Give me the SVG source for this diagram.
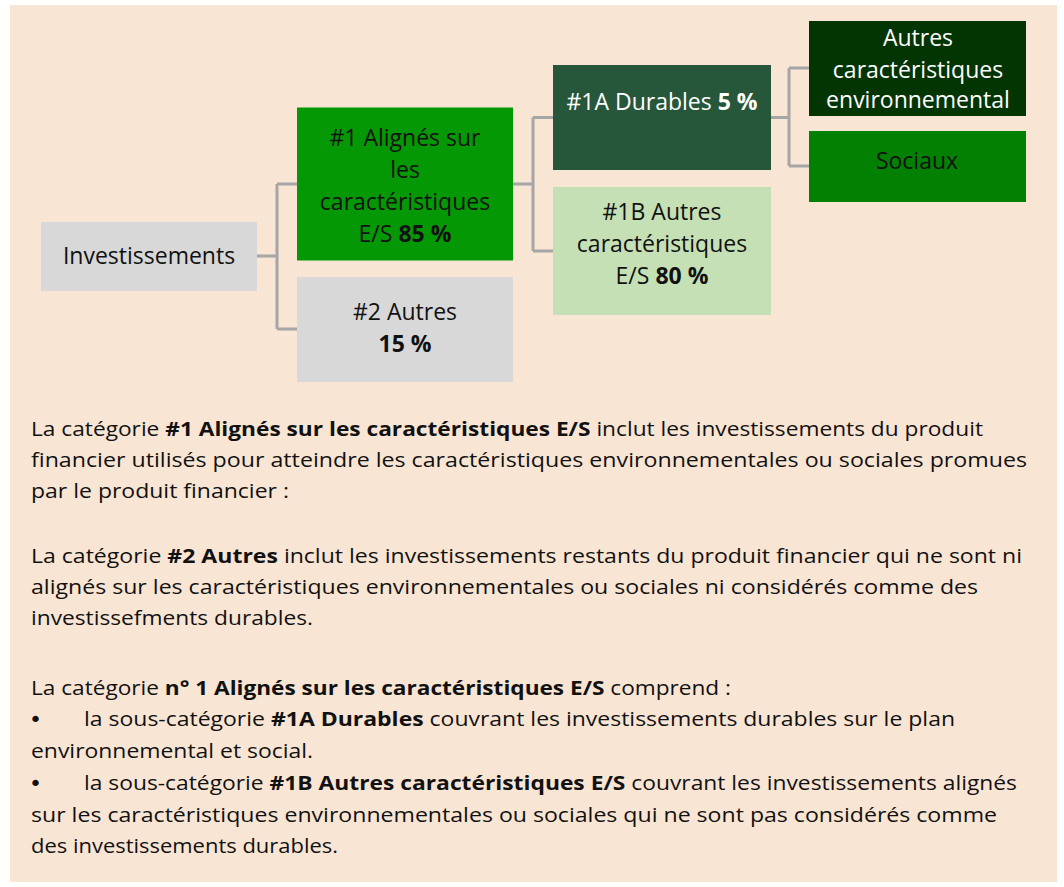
<svg xmlns="http://www.w3.org/2000/svg" width="1064" height="887" viewBox="0 0 1064 887">
  <style>
    .bt { font-family: "Open Sans", "Noto Sans", sans-serif; font-size: 23px; text-anchor: middle; fill: #111; }
    .w { fill: #ffffff; }
    .b { font-weight: bold; }
    .body { font-family: "Open Sans", "Noto Sans", sans-serif; font-size: 19.5px; fill: #111; }
    .bullet { font-family: "DejaVu Sans", sans-serif; font-size: 22px; fill: #111; }
    .conn { fill: none; stroke: #A6A6A6; stroke-width: 3; }
  </style>
  <rect x="0" y="0" width="1064" height="887" fill="#ffffff"/>
  <rect x="10" y="5" width="1047" height="877" fill="#F9E5D3"/>

  <g id="connectors">
    <path class="conn" d="M257,256 H277 M277,184 V329 M277,184 H297 M277,329 H297"/>
    <path class="conn" d="M513,184 H533 M533,117.5 V251 M533,117.5 H553 M533,251 H553"/>
    <path class="conn" d="M771,117.5 H789 M789,68 V166 M789,68 H809 M789,166 H809"/>
  </g>

  <g id="investissements">
    <rect x="41" y="222" width="216" height="69" fill="#D8D8D8"/>
    <text class="bt" x="149" y="263.5">Investissements</text>
  </g>

  <g id="n1">
    <rect x="297" y="107.5" width="216" height="153" fill="#049804"/>
    <text class="bt" x="405" y="146">#1 Alignés sur</text>
    <text class="bt" x="405" y="178">les</text>
    <text class="bt" x="405" y="210">caractéristiques</text>
    <text class="bt" x="405" y="242">E/S <tspan class="b">85 %</tspan></text>
  </g>

  <g id="n2">
    <rect x="297" y="277" width="216" height="105" fill="#D8D8D8"/>
    <text class="bt" x="405" y="320">#2 Autres</text>
    <text class="bt b" x="405" y="352">15 %</text>
  </g>

  <g id="n1a">
    <rect x="553" y="65" width="218" height="105" fill="#26573B"/>
    <text class="bt w" x="662" y="109.5">#1A Durables <tspan class="b">5 %</tspan></text>
  </g>

  <g id="n1b">
    <rect x="553" y="187" width="218" height="128" fill="#C5E0B4"/>
    <text class="bt" x="662" y="220">#1B Autres</text>
    <text class="bt" x="662" y="252">caractéristiques</text>
    <text class="bt" x="662" y="284">E/S <tspan class="b">80 %</tspan></text>
  </g>

  <g id="env">
    <rect x="809" y="21" width="217" height="95" fill="#033503"/>
    <text class="bt w" x="918" y="46">Autres</text>
    <text class="bt w" x="918" y="77.5">caractéristiques</text>
    <text class="bt w" x="918" y="108">environnemental</text>
  </g>

  <g id="sociaux">
    <rect x="809" y="131" width="217" height="71" fill="#028002"/>
    <text class="bt" x="917" y="168.5">Sociaux</text>
  </g>

  <g id="texte">
    <text class="body" x="31" y="436" textLength="952" lengthAdjust="spacingAndGlyphs">La catégorie <tspan class="b">#1 Alignés sur les caractéristiques E/S</tspan> inclut les investissements du produit</text>
    <text class="body" x="31" y="467" textLength="996" lengthAdjust="spacingAndGlyphs">financier utilisés pour atteindre les caractéristiques environnementales ou sociales promues</text>
    <text class="body" x="31" y="498" textLength="258" lengthAdjust="spacingAndGlyphs">par le produit financier :</text>

    <text class="body" x="31" y="562.5" textLength="991" lengthAdjust="spacingAndGlyphs">La catégorie <tspan class="b">#2 Autres</tspan> inclut les investissements restants du produit financier qui ne sont ni</text>
    <text class="body" x="31" y="593.5" textLength="947" lengthAdjust="spacingAndGlyphs">alignés sur les caractéristiques environnementales ou sociales ni considérés comme des</text>
    <text class="body" x="31" y="624.5" textLength="282" lengthAdjust="spacingAndGlyphs">investissefments durables.</text>

    <text class="body" x="31" y="695" textLength="700" lengthAdjust="spacingAndGlyphs">La catégorie <tspan class="b">n° 1 Alignés sur les caractéristiques E/S</tspan> comprend :</text>
    <text class="bullet" x="29" y="727">•</text>
    <text class="body" x="84" y="726" textLength="871" lengthAdjust="spacingAndGlyphs">la sous-catégorie <tspan class="b">#1A Durables</tspan> couvrant les investissements durables sur le plan</text>
    <text class="body" x="31" y="757.5" textLength="282" lengthAdjust="spacingAndGlyphs">environnemental et social.</text>
    <text class="bullet" x="29" y="791">•</text>
    <text class="body" x="84" y="790" textLength="933" lengthAdjust="spacingAndGlyphs">la sous-catégorie <tspan class="b">#1B Autres caractéristiques E/S</tspan> couvrant les investissements alignés</text>
    <text class="body" x="31" y="821.5" textLength="966" lengthAdjust="spacingAndGlyphs">sur les caractéristiques environnementales ou sociales qui ne sont pas considérés comme</text>
    <text class="body" x="31" y="852.5" textLength="307" lengthAdjust="spacingAndGlyphs">des investissements durables.</text>
  </g>
</svg>
